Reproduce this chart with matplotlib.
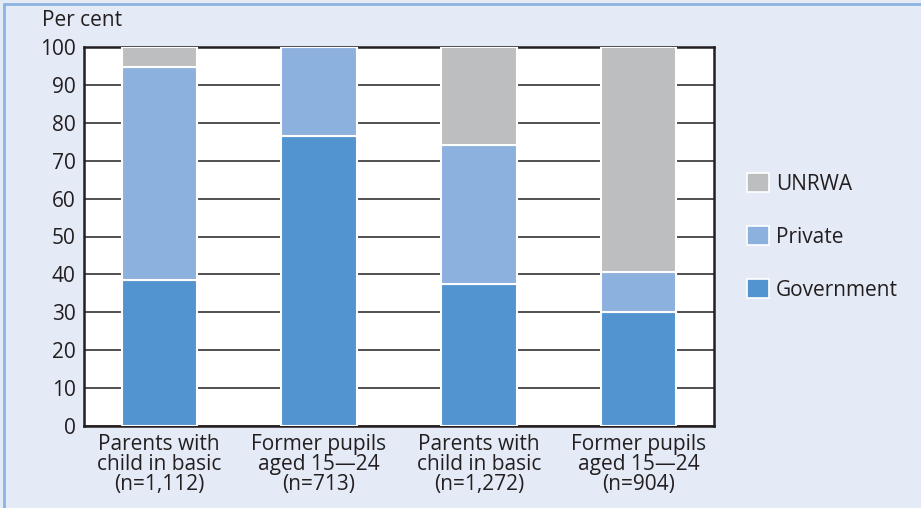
import numpy as np
import matplotlib.pyplot as plt
from matplotlib.patches import Rectangle, Patch

plt.rcParams['font.family'] = ['Open Sans', 'DejaVu Sans']

# Data
categories = ['Parents with\nchild in basic\n(n=1,112)',
              'Former pupils\naged 15\u201424\n(n=713)',
              'Parents with\nchild in basic\n(n=1,272)',
              'Former pupils\naged 15\u201424\n(n=904)']
government = np.array([38.5, 76.5, 37.5, 30.1])
private = np.array([56.3, 23.5, 36.6, 10.5])
unrwa = np.array([5.2, 0.0, 25.9, 59.4])

series_names = ['Government', 'Private', 'UNRWA']
colors = ['#5294CF', '#8CB1DE', '#BDBEC0']
bg = '#E4EAF6'
fs = 15

fig = plt.figure(figsize=(9.21, 5.08), dpi=100)
fig.patch.set_facecolor(bg)
fig.patches.append(Rectangle((0.004, -0.01), 1.2, 1.003, transform=fig.transFigure,
                             fill=False, edgecolor='#8DB3E2', linewidth=2))

ax = fig.add_axes([84/921, 1 - 426/508, 630/921, 379/508])
ax.set_facecolor('white')

x = np.arange(len(categories))
w = 0.47
bottom = np.zeros(len(x))
for vals, c in zip([government, private, unrwa], colors):
    ax.bar(x, vals, w, bottom=bottom, color=c, edgecolor='white', linewidth=1.5, zorder=3)
    bottom += vals

ax.set_ylim(0, 100)
ax.set_xlim(-0.47, 3.47)
ax.set_yticks(np.arange(0, 101, 10))
ax.set_xticks(x)
ax.set_xticklabels(categories, fontsize=fs, color='#231F20', linespacing=0.92)
ax.tick_params(axis='y', labelsize=fs, labelcolor='#231F20', length=0, pad=6)
ax.tick_params(axis='x', length=0, pad=6)
ax.yaxis.grid(True, color='#231F20', linewidth=1.1, zorder=1)
ax.set_axisbelow(True)
for s in ax.spines.values():
    s.set_linewidth(1.8)
    s.set_color('#231F20')

fig.text(42/921, 1 - 20/508, 'Per cent', fontsize=fs, color='#231F20', va='center')

handles = [Patch(facecolor=c, edgecolor='white', linewidth=1.2) for c in colors[::-1]]
leg = fig.legend(handles, series_names[::-1], loc='center left',
                 bbox_to_anchor=(728/921, 1 - 237/508), frameon=False,
                 fontsize=fs, labelspacing=1.5, handlelength=1.05, handleheight=1.05,
                 handletextpad=0.35, labelcolor='#231F20')

fig.savefig('out.png', dpi=100, facecolor=bg)
